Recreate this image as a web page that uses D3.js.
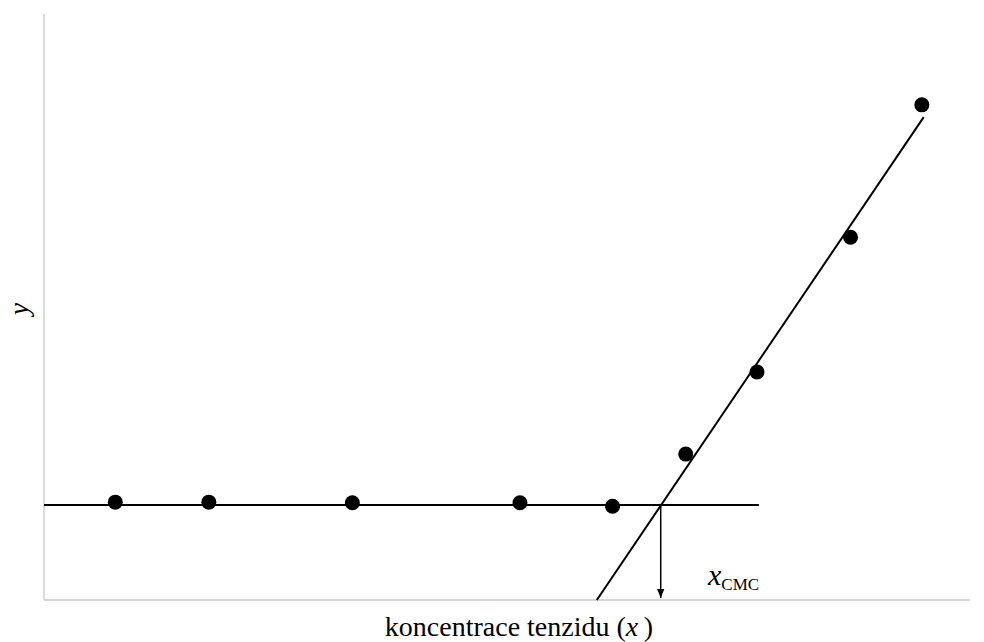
<!DOCTYPE html>
<html>
<head>
<meta charset="utf-8">
<script src="https://cdn.jsdelivr.net/npm/d3@7"></script>
<style>
  html, body { margin: 0; padding: 0; background: #fff; }
</style>
</head>
<body>
<svg id="chart" width="984" height="642"></svg>
<script>
// measured points (arbitrary units, 0..10 on both axes)
const pointX = [0.77, 1.78, 3.33, 5.14, 6.14, 6.93, 7.70, 8.71, 9.48];
const pointY = [1.67, 1.67, 1.66, 1.66, 1.60, 2.49, 3.89, 6.19, 8.45];

// fitted lines
const flatLineX = [0, 7.72];
const flatLineY = [1.62, 1.62];
const slopeLineX = [5.97, 9.50];
const slopeLineY = [0, 8.24];
const cmcX = 6.66;

const FONT = "'Liberation Serif'";
const svg = d3.select('#chart');

const x = d3.scaleLinear().domain([0, 10]).range([44, 970]);
const y = d3.scaleLinear().domain([0, 10]).range([600, 14]);

// axes (plain gray lines, no ticks)
svg.append('line')
  .attr('x1', x(0)).attr('x2', x(0))
  .attr('y1', y(0)).attr('y2', y(10))
  .attr('stroke', '#c8c8c8').attr('stroke-width', 1.3);
svg.append('line')
  .attr('x1', x(0)).attr('x2', x(10))
  .attr('y1', y(0)).attr('y2', y(0))
  .attr('stroke', '#c8c8c8').attr('stroke-width', 1.3);

const line = d3.line().x(d => x(d[0])).y(d => y(d[1]));

svg.append('path')
  .datum(d3.zip(flatLineX, flatLineY))
  .attr('d', line)
  .attr('fill', 'none').attr('stroke', '#000').attr('stroke-width', 2);

svg.append('path')
  .datum(d3.zip(slopeLineX, slopeLineY))
  .attr('d', line)
  .attr('fill', 'none').attr('stroke', '#000').attr('stroke-width', 2);

// arrow down to x axis at CMC
svg.append('defs').append('marker')
  .attr('id', 'arrow')
  .attr('viewBox', '0 0 10 10')
  .attr('refX', 10).attr('refY', 5)
  .attr('markerWidth', 9).attr('markerHeight', 9)
  .attr('markerUnits', 'userSpaceOnUse')
  .attr('orient', 'auto')
  .append('path')
  .attr('d', 'M0,1 L10,5 L0,9 Z')
  .attr('fill', '#000');

svg.append('line')
  .attr('x1', x(cmcX)).attr('x2', x(cmcX))
  .attr('y1', y(flatLineY[0])).attr('y2', y(0) - 2)
  .attr('stroke', '#000').attr('stroke-width', 1.5)
  .attr('marker-end', 'url(#arrow)');

// data points
svg.selectAll('circle.pt')
  .data(d3.zip(pointX, pointY))
  .join('circle')
  .attr('class', 'pt')
  .attr('cx', d => x(d[0]))
  .attr('cy', d => y(d[1]))
  .attr('r', 7.5)
  .attr('fill', '#000');

// labels
svg.append('text')
  .attr('transform', `translate(28,${y(5) + 2}) rotate(-90)`)
  .attr('text-anchor', 'middle')
  .style('font-family', FONT)
  .style('font-size', '27px')
  .style('font-style', 'italic')
  .text('y');

const xl = svg.append('text')
  .attr('x', 519).attr('y', 636)
  .attr('text-anchor', 'middle')
  .style('font-family', FONT)
  .style('font-size', '28px');
xl.append('tspan').text('koncentrace tenzidu (');
xl.append('tspan').style('font-style', 'italic').text('x');
xl.append('tspan').text('\u2009)');

const cl = svg.append('text')
  .attr('x', 708).attr('y', 585)
  .style('font-family', FONT)
  .style('font-size', '30px');
cl.append('tspan').style('font-style', 'italic').text('x');
cl.append('tspan').style('font-size', '17px').attr('dy', 5).text('CMC');
</script>
</body>
</html>
